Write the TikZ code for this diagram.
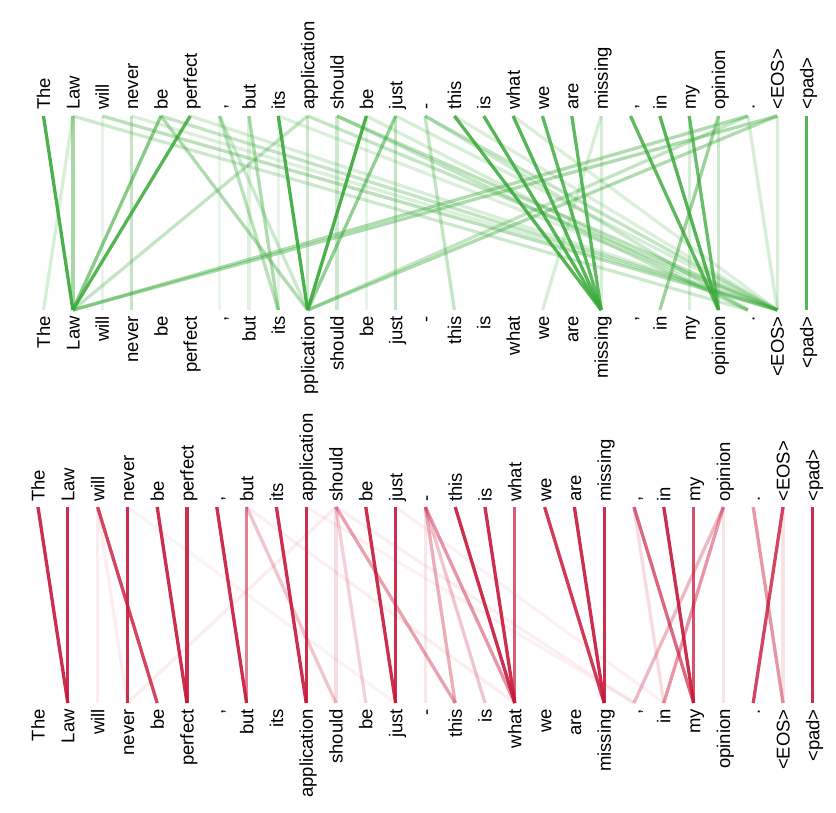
\documentclass[tikz,border=0pt]{standalone}
\usepackage{fontspec}
\setmainfont{Liberation Sans}
\definecolor{attgreen}{HTML}{38A838}
\definecolor{attred}{HTML}{C8173A}
\newcommand\toklist{0/The,1/Law,2/will,3/never,4/be,5/perfect,6/{,},7/but,8/its,9/application,10/should,11/be,12/just,13/-,14/this,15/is,16/what,17/we,18/are,19/missing,20/{,},21/in,22/my,23/opinion,24/.,25/<EOS>,26/<pad>}

\begin{document}
\begin{tikzpicture}[
    x=1pt, y=-1pt,
    every node/.style={font=\fontsize{18.5}{20}\selectfont, inner sep=0pt, text height=13.3pt, text depth=0pt},
    uptok/.style={rotate=90, anchor=west},
    downtok/.style={rotate=90, anchor=east},
    gline/.style={attgreen, line width=3.3pt},
    rline/.style={attred, line width=3.3pt},
]
\useasboundingbox (0,0) rectangle (836,813);

% green map
\foreach \i/\w in \toklist {
  \pgfmathsetmacro\x{43.5+29.35*\i}
  \coordinate (gt\i) at (\x,116);
  \coordinate (gb\i) at (\x,310);
  \node[uptok] (gu\i) at (\x,110) {\w};
  \node[downtok] (gd\i) at (\x,316) {\ifnum\i=9 pplication\else\w\fi};
}
\foreach \a/\b/\o in {2/2/0.12, 1/0/0.2, 8/8/0.12, 6/6/0.1, 11/11/0.12, 22/22/0.2,
    19/17/0.2, 19/19/0.2, 25/25/0.2, 24/25/0.2, 23/23/0.25, 7/7/0.15,
    3/25/0.18, 8/25/0.18, 12/25/0.2, 11/24/0.2, 14/25/0.18, 16/25/0.18,
    1/24/0.25, 5/25/0.2, 4/25/0.3, 2/25/0.35, 9/25/0.3, 10/25/0.35, 10/24/0.3,
    13/25/0.3, 13/24/0.25, 13/14/0.3, 24/9/0.3, 24/1/0.4, 25/1/0.4, 25/9/0.4,
    3/3/0.3, 6/8/0.35, 6/9/0.25, 7/8/0.4, 9/1/0.3, 9/9/0.25, 10/10/0.25,
    12/12/0.3, 4/9/0.4, 1/1/0.45, 23/21/0.5, 12/9/0.55, 4/1/0.6,
    0/1/0.9, 5/1/0.85, 8/9/0.9, 11/9/0.9, 14/19/0.85, 15/19/0.85, 16/19/0.85,
    17/19/0.8, 18/19/0.8, 20/23/0.8, 21/23/0.85, 22/23/0.75, 26/26/0.85}
  \draw[gline, draw opacity=\o] (gt\a) -- (gb\b);

% red map
\foreach \i/\w in \toklist {
  \pgfmathsetmacro\x{38+29.8*\i}
  \coordinate (rt\i) at (\x,507);
  \coordinate (rb\i) at (\x,703);
  \node[uptok] (ru\i) at (\x,502) {\w};
  \node[downtok] (rd\i) at (\x,709) {\w};
}
\foreach \a/\b/\o in {2/2/0.08, 2/3/0.08, 10/3/0.08, 7/16/0.07, 9/20/0.06, 10/20/0.07,
    12/21/0.06, 3/12/0.05, 13/13/0.1, 10/10/0.15, 23/23/0.12, 25/25/0.12,
    20/21/0.15, 10/11/0.2, 7/10/0.25, 13/15/0.25, 23/20/0.3, 13/14/0.35,
    10/14/0.4, 13/16/0.45, 23/21/0.45, 24/25/0.45, 7/7/0.55, 20/22/0.65,
    16/16/0.7, 22/22/0.75, 25/24/0.8, 2/4/0.8,
    0/1/0.9, 1/1/0.9, 3/3/0.9, 4/5/0.9, 5/5/0.9, 6/7/0.9, 8/9/0.9, 9/9/0.9,
    11/12/0.9, 12/12/0.9, 14/16/0.9, 15/16/0.9, 17/19/0.85, 18/19/0.9,
    19/19/0.9, 21/22/0.9, 26/26/0.9}
  \draw[rline, draw opacity=\o] (rt\a) -- (rb\b);
\end{tikzpicture}
\end{document}
